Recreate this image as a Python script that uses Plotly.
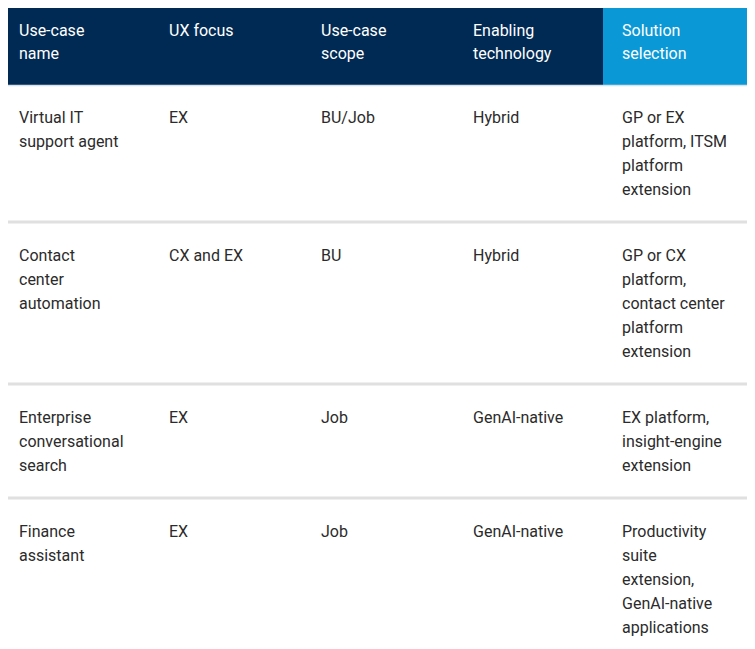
import plotly.graph_objects as go

headers = [["Use-case", "name"], ["UX focus"], ["Use-case", "scope"], ["Enabling", "technology"], ["Solution", "selection"]]
rows = [
    [["Virtual IT", "support agent"], ["EX"], ["BU/Job"], ["Hybrid"], ["GP or EX", "platform, ITSM", "platform", "extension"]],
    [["Contact", "center", "automation"], ["CX and EX"], ["BU"], ["Hybrid"], ["GP or CX", "platform,", "contact center", "platform", "extension"]],
    [["Enterprise", "conversational", "search"], ["EX"], ["Job"], ["GenAI-native"], ["EX platform,", "insight-engine", "extension"]],
    [["Finance", "assistant"], ["EX"], ["Job"], ["GenAI-native"], ["Productivity", "suite", "extension,", "GenAI-native", "applications"]],
]

W, H = 755, 649
OFF = 8  # compensate page body margin
col_x = [0, 150, 302, 454, 603, 755]
pad = 17
LH = 24
HEAD_H = 85
navy, blue = "#002a54", "#0b98d6"
font = "Roboto"

shapes, ann = [], []
for i in range(5):
    shapes.append(dict(type="rect", x0=col_x[i], x1=col_x[i+1], y0=0, y1=HEAD_H,
                       fillcolor=blue if i == 4 else navy, line_width=0, layer="below"))
    for j, t in enumerate(headers[i]):
        ann.append(dict(x=col_x[i]+pad, y=30+j*23, text=t, xanchor="left", yanchor="middle",
                        showarrow=False, font=dict(family=font, size=16, color="white")))
shapes.append(dict(type="line", x0=0, x1=W, y0=HEAD_H+0.5, y1=HEAD_H+0.5, line=dict(color="#d6e2ec", width=1.5)))

top = HEAD_H + 1
for r, row in enumerate(rows):
    n = max(len(c) for c in row)
    h = LH*n + 40
    for i, cell in enumerate(row):
        for j, t in enumerate(cell):
            ann.append(dict(x=col_x[i]+pad, y=top+31+j*LH, text=t, xanchor="left", yanchor="middle",
                            showarrow=False, font=dict(family=font, size=16, color="#2b2b2b")))
    top += h
    if r < len(rows)-1:
        shapes.append(dict(type="line", x0=0, x1=W, y0=top, y1=top, line=dict(color="#e0e0e0", width=3)))
        top += 2

fig = go.Figure()
fig.update_layout(width=W, height=H, margin=dict(l=0, r=0, t=0, b=0),
                  paper_bgcolor="white", plot_bgcolor="white",
                  xaxis=dict(range=[OFF, W+OFF], visible=False, fixedrange=True),
                  yaxis=dict(range=[H+OFF, OFF], visible=False, fixedrange=True),
                  shapes=shapes, annotations=ann, showlegend=False)
fig.write_html("out.html")
